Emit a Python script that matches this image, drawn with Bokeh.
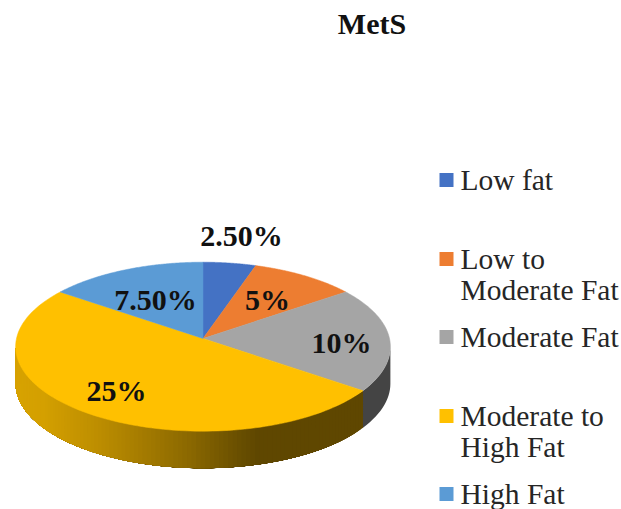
import numpy as np
from bokeh.core.properties import value
from bokeh.embed import file_html
from bokeh.models import ColumnDataSource, Range1d
from bokeh.plotting import figure
from bokeh.resources import INLINE

# Chart content
title = "MetS"
categories = ["Low fat", "Low to\nModerate Fat", "Moderate Fat", "Moderate to\nHigh Fat", "High Fat"]
values = [2.5, 5, 10, 25, 7.5]
value_labels = ["2.50%", "5%", "10%", "25%", "7.50%"]
colors = ["#4472C4", "#ED7D31", "#A5A5A5", "#FFC000", "#5B9BD5"]

# Layout, in page pixels
W, H = 621, 509
APEX = (202.5, 338)
K, M, PERSP = 186.5, 83.7, 0.097
DEPTH = 37
LABEL_POS = [(241, 235), (267, 299), (341, 342), (116, 390), (155, 299)]
LEGEND_Y = [179, 258, 336, 415, 493]
LINE_GAP = 31
FONT = value("Liberation Serif")
BOLD_SIZE = "30px"
LEGEND_SIZE = "29.5px"


def project(theta):
    """Tilted-disc projection; theta runs clockwise from twelve o'clock."""
    u, v = np.sin(theta), np.cos(theta)
    d = 1 + PERSP * v
    return APEX[0] + K * u / d, APEX[1] - M * v / d


p = figure(width=W, height=H, output_backend="svg", toolbar_location=None,
           x_range=Range1d(0, W), y_range=Range1d(H, 0), min_border=0,
           outline_line_color=None)
p.axis.visible = False
p.grid.visible = False

# Turn the values into slice boundaries
shares = np.array(values) / sum(values)
edges = 2 * np.pi * np.concatenate([[0], np.cumsum(shares)])

# Extruded rim: the limb of the disc sits where cos(theta) = -PERSP
limb = np.arccos(-PERSP)
gray_end = edges[3]
rim_end = 2 * np.pi - limb


def side_band(t0, t1, n):
    x, y = project(np.linspace(t0, t1, n))
    return (np.concatenate([x, x[::-1]]).tolist(),
            np.concatenate([y, y[::-1] + DEPTH]).tolist())


# Right-hand end of the rim, below the gray slice
gx, gy = side_band(limb, gray_end, 16)
p.patch(gx, gy, fill_color="#444444", line_color=None)

# Front of the rim, below the yellow slice: shaded left to right.
# Each band runs on to the far end and is overpainted by the next, which
# leaves no antialiasing seams between neighbours.
shade_x = [14, 45, 100, 190, 240, 260, 362]
shade_r = [216, 212, 189, 140, 106, 95, 95]
shade_g = [163, 160, 142, 105, 80, 71, 71]
shade_b = [2, 0, 0, 0, 0, 0, 0]
ts = np.linspace(gray_end, rim_end, 110)
for a in ts[:-1]:
    xs, ys = side_band(a, rim_end, 60)
    mid = float(project(a)[0])
    c = "#%02x%02x%02x" % (int(np.interp(mid, shade_x, shade_r)),
                           int(np.interp(mid, shade_x, shade_g)),
                           int(np.interp(mid, shade_x, shade_b)))
    p.patch(xs, ys, fill_color=c, line_color=None)

# Top face, one patch per slice
for t0, t1, c in zip(edges[:-1], edges[1:], colors):
    x, y = project(np.linspace(t0, t1, 120))
    p.patch([APEX[0]] + x.tolist(), [APEX[1]] + y.tolist(),
            fill_color=c, line_color=c, line_width=0.5)

# Value labels
src = ColumnDataSource(dict(x=[q[0] for q in LABEL_POS], y=[q[1] for q in LABEL_POS], t=value_labels))
p.text("x", "y", "t", source=src, text_font=FONT, text_font_style="bold",
       text_font_size=BOLD_SIZE, text_align="center", text_baseline="middle", text_color="#111111")

# Title
p.text([371.5], [23], [title], text_font=FONT, text_font_style="bold", text_font_size=BOLD_SIZE,
       text_align="center", text_baseline="middle", text_color="#111111")

# Legend: swatch beside the first line of each entry
swatch_y = [y + 0.5 for y in LEGEND_Y]
p.scatter([446] * len(categories), swatch_y, marker="square", size=14, fill_color=colors, line_color=None)
lx, ly, lt = [], [], []
for y0, name in zip(LEGEND_Y, categories):
    for i, line in enumerate(name.split("\n")):
        lx.append(460)
        ly.append(y0 + i * LINE_GAP)
        lt.append(line)
p.text(lx, ly, lt, text_font=FONT, text_font_size=LEGEND_SIZE, text_align="left",
       text_baseline="middle", text_color="#262626")

open("out.html", "w").write(file_html(p, INLINE))
